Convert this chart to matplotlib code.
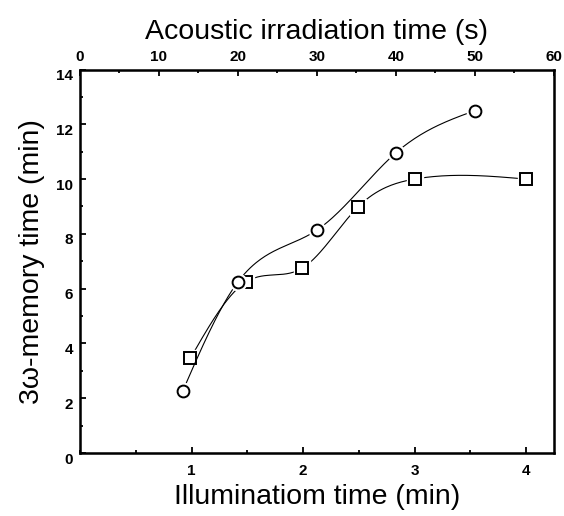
import numpy as np
import matplotlib
matplotlib.use("Agg")
import matplotlib.pyplot as plt
import matplotlib.transforms as mtransforms
from matplotlib.ticker import MultipleLocator

plt.rcParams['font.family'] = ['Liberation Sans', 'DejaVu Sans']

# circles: acoustic irradiation time (s, top axis)
acoustic_s = [13, 20, 30, 40, 50]
acoustic_mem = [2.26, 6.25, 8.14, 10.96, 12.5]

# squares: illumination time (min, bottom axis)
illum_min = [0.99, 1.49, 1.99, 2.49, 3.0, 4.0]
illum_mem = [3.46, 6.25, 6.74, 8.97, 10.0, 10.0]


def natural_spline(x, y, n=200):
    # natural cubic spline through the points, for the smooth connecting curve
    x = np.asarray(x, float)
    y = np.asarray(y, float)
    k = len(x)
    h = np.diff(x)
    A = np.zeros((k, k))
    r = np.zeros(k)
    A[0, 0] = 1
    A[-1, -1] = 1
    for i in range(1, k - 1):
        A[i, i - 1] = h[i - 1]
        A[i, i] = 2 * (h[i - 1] + h[i])
        A[i, i + 1] = h[i]
        r[i] = 3 * ((y[i + 1] - y[i]) / h[i] - (y[i] - y[i - 1]) / h[i - 1])
    c = np.linalg.solve(A, r)
    xs = np.linspace(x[0], x[-1], n)
    ys = np.empty_like(xs)
    for j, xv in enumerate(xs):
        i = min(np.searchsorted(x, xv, side='right') - 1, k - 2)
        b = (y[i + 1] - y[i]) / h[i] - h[i] * (2 * c[i] + c[i + 1]) / 3
        d = (c[i + 1] - c[i]) / (3 * h[i])
        t = xv - x[i]
        ys[j] = y[i] + b * t + c[i] * t ** 2 + d * t ** 3
    return xs, ys


fig = plt.figure(figsize=(5.64, 5.16), dpi=100)
ax = fig.add_axes([0.1418, 0.122, 0.8404, 0.7433])
ax2 = ax.twiny()

ax.set_xlim(0, 4.25)
ax.set_ylim(0, 14)
ax2.set_xlim(0, 60)

# square series on bottom axis
xs, ys = natural_spline(illum_min, illum_mem)
ax.plot(xs, ys, color='black', lw=0.8, zorder=2)
ax.plot(illum_min, illum_mem, ls='none', marker='s', ms=11.5, mfc='white',
        mec='white', zorder=3)
ax.plot(illum_min, illum_mem, ls='none', marker='s', ms=8, mfc='white',
        mec='black', mew=1.4, zorder=4)

# circle series on top axis
xs, ys = natural_spline(acoustic_s, acoustic_mem)
ax2.plot(xs, ys, color='black', lw=0.8, zorder=2)
ax2.plot(acoustic_s, acoustic_mem, ls='none', marker='o', ms=12, mfc='white',
         mec='white', zorder=3)
ax2.plot(acoustic_s, acoustic_mem, ls='none', marker='o', ms=8.5, mfc='white',
         mec='black', mew=1.4, zorder=4)

for sp in ax.spines.values():
    sp.set_linewidth(1.8)

ax.xaxis.set_major_locator(MultipleLocator(1))
ax.xaxis.set_minor_locator(MultipleLocator(0.5))
ax.yaxis.set_major_locator(MultipleLocator(2))
ax.yaxis.set_minor_locator(MultipleLocator(1))
ax2.xaxis.set_major_locator(MultipleLocator(10))
ax2.xaxis.set_minor_locator(MultipleLocator(5))

ax.tick_params(axis='both', which='both', direction='in', width=1.3,
               right=False, top=False, labelsize=11)
ax.tick_params(which='major', length=4.5)
ax.tick_params(which='minor', length=2.5)
ax.tick_params(axis='x', pad=8)
ax.tick_params(axis='y', pad=5)
ax2.tick_params(axis='x', which='both', direction='in', width=1.3, labelsize=11, pad=4)
ax2.tick_params(which='major', length=4.5)
ax2.tick_params(which='minor', length=2.5)

ax.set_xticks([1, 2, 3, 4])
ax.set_xticklabels(['1', '2', '3', '4'])

offset = mtransforms.ScaledTranslation(0, -5 / 100, fig.dpi_scale_trans)
for lab in ax.get_yticklabels():
    lab.set_transform(lab.get_transform() + offset)
for lab in ax.get_xticklabels() + ax.get_yticklabels() + ax2.get_xticklabels():
    lab.set_fontweight('bold')

ax.set_xlabel('Illuminatiom time (min)', fontsize=20.5, labelpad=4)
ax.set_ylabel('3\u03c9-memory time (min)', fontsize=20.5, labelpad=8)
ax2.set_xlabel('Acoustic irradiation time (s)', fontsize=20.5, labelpad=8)

fig.savefig('out.png', dpi=100)
